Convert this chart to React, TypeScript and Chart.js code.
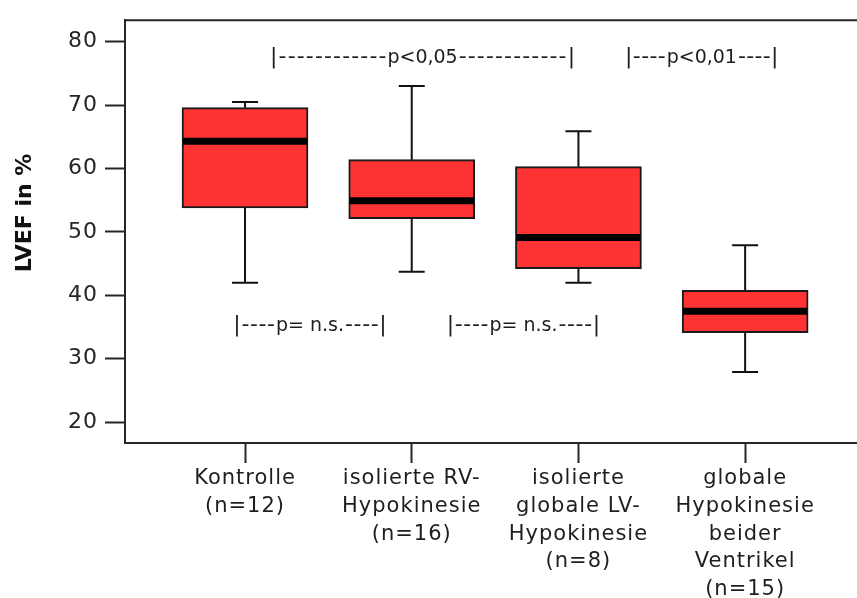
import React, { useEffect, useRef } from 'react';
import { Chart, registerables } from 'chart.js';

Chart.register(...registerables);

// ---- data ----
const categories: string[][] = [
  ['Kontrolle', '(n=12)'],
  ['isolierte RV-', 'Hypokinesie', '(n=16)'],
  ['isolierte', 'globale LV-', 'Hypokinesie', '(n=8)'],
  ['globale', 'Hypokinesie', 'beider', 'Ventrikel', '(n=15)'],
];
const whiskerLow = [42.0, 43.7, 42.0, 27.9];
const q1 = [53.8, 52.1, 44.2, 34.1];
const median = [64.3, 54.9, 49.1, 37.5];
const q3 = [69.6, 61.4, 60.3, 40.8];
const whiskerHigh = [70.5, 73.0, 65.9, 47.9];
const yTicks = [20, 30, 40, 50, 60, 70, 80];
const yTitle = 'LVEF in %';

const bracketLabels = [
  '|------------p<0,05------------|',
  '|----p<0,01----|',
  '|----p= n.s.----|',
  '|----p= n.s.----|',
];
const bracketFrom = [0.15, 2.28, -0.07, 1.21];
const bracketTo = [1.98, 3.2, 0.85, 2.13];
const bracketY = [77.7, 77.7, 35.5, 35.5];

const FONT = "'DejaVu Sans', 'Liberation Sans', sans-serif";
const DARK = '#262626';

function fitText(ctx: any, txt: string, x0: number, x1: number, y: number) {
  ctx.letterSpacing = '0px';
  const w = ctx.measureText(txt).width;
  const ls = txt.length > 1 ? (x1 - x0 - w) / (txt.length - 1) : 0;
  ctx.letterSpacing = `${ls}px`;
  ctx.fillText(txt, x0, y);
  ctx.letterSpacing = '0px';
}

const extrasPlugin = {
  id: 'boxExtras',
  beforeDraw(chart: any) {
    try { (chart.ctx as any).letterSpacing = '1px'; } catch (e) {}
  },
  afterDatasetsDraw(chart: any) {
    const { ctx, chartArea, scales } = chart;
    const x = scales.x;
    const y = scales.y;
    ctx.save();
    (ctx as any).letterSpacing = '0px';
    // top frame line
    ctx.strokeStyle = DARK;
    ctx.lineWidth = 2;
    ctx.beginPath();
    ctx.moveTo(chartArea.left - 1, chartArea.top);
    ctx.lineTo(chartArea.right + 2, chartArea.top);
    ctx.stroke();

    const half = 63;
    const cap = 13;
    for (let i = 0; i < categories.length; i++) {
      const cx = x.getPixelForValue(i);
      const yLo = y.getPixelForValue(whiskerLow[i]);
      const yQ1 = y.getPixelForValue(q1[i]);
      const yQ3 = y.getPixelForValue(q3[i]);
      const yHi = y.getPixelForValue(whiskerHigh[i]);
      const yMed = y.getPixelForValue(median[i]);
      ctx.strokeStyle = '#111';
      ctx.lineWidth = 2;
      ctx.beginPath();
      ctx.moveTo(cx, yQ3);
      ctx.lineTo(cx, yHi);
      ctx.moveTo(cx - cap, yHi);
      ctx.lineTo(cx + cap, yHi);
      ctx.moveTo(cx, yQ1);
      ctx.lineTo(cx, yLo);
      ctx.moveTo(cx - cap, yLo);
      ctx.lineTo(cx + cap, yLo);
      ctx.stroke();
      // median
      ctx.strokeStyle = '#000';
      ctx.lineWidth = 7;
      ctx.beginPath();
      ctx.moveTo(cx - half + 1, yMed);
      ctx.lineTo(cx + half - 1, yMed);
      ctx.stroke();
    }

    // significance brackets
    ctx.fillStyle = '#1e1e1e';
    ctx.textBaseline = 'alphabetic';
    ctx.textAlign = 'left';
    for (let i = 0; i < bracketLabels.length; i++) {
      const x0 = x.getPixelForValue(bracketFrom[i]);
      const x1 = x.getPixelForValue(bracketTo[i]);
      const yy = y.getPixelForValue(bracketY[i]) + 7;
      const m = bracketLabels[i].match(/^(\|-+)(.*?)(-+\|)$/);
      if (!m) continue;
      const [, leftPart, midPart, rightPart] = m;
      ctx.font = `19px ${FONT}`;
      (ctx as any).letterSpacing = '0px';
      const mw = ctx.measureText(midPart).width;
      const cxm = (x0 + x1) / 2;
      const ms = cxm - mw / 2;
      const me = cxm + mw / 2;
      ctx.fillText(midPart, ms, yy);
      ctx.font = `22px ${FONT}`;
      fitText(ctx, leftPart, x0, ms - 1, yy);
      fitText(ctx, rightPart, me + 1, x1, yy);
    }

    // y axis title
    (ctx as any).letterSpacing = '0px';
    ctx.fillStyle = '#111';
    ctx.font = `bold 22px ${FONT}`;
    ctx.textAlign = 'center';
    ctx.textBaseline = 'middle';
    ctx.translate(25, y.getPixelForValue(53.0));
    ctx.rotate(-Math.PI / 2);
    ctx.fillText(yTitle, 0, 0);
    ctx.restore();
  },
};

export default function App() {
  const ref = useRef<HTMLCanvasElement | null>(null);
  useEffect(() => {
    document.body.style.margin = '0';
    const canvas = ref.current!;
    const chart = new Chart(canvas, {
      type: 'bar',
      data: {
        datasets: [
          {
            data: categories.map((_, i) => ({ x: i, y: [q1[i], q3[i]] })) as any,
            backgroundColor: '#ff3333',
            borderColor: '#1a1a1a',
            borderWidth: 2,
            borderSkipped: false,
            barThickness: 126,
          },
        ],
      },
      options: {
        animation: false,
        responsive: false,
        maintainAspectRatio: false,
        devicePixelRatio: 1,
        layout: { padding: { top: 13, left: 0, right: 0, bottom: 0 } },
        plugins: { legend: { display: false }, tooltip: { enabled: false }, title: { display: false } },
        scales: {
          x: {
            type: 'linear',
            min: -0.72,
            max: 3.713,
            offset: false,
            grid: {
              display: true,
              offset: false,
              drawOnChartArea: false,
              drawTicks: true,
              tickLength: 20,
              tickColor: DARK,
              tickWidth: 2,
              color: DARK,
            },
            border: { display: true, color: DARK, width: 2 },
            afterBuildTicks: (scale: any) => {
              scale.ticks = categories.map((_, i) => ({ value: i }));
            },
            afterFit: (scale: any) => {
              scale.height = 155;
            },
            ticks: {
              autoSkip: false,
              maxRotation: 0,
              minRotation: 0,
              padding: 2,
              color: '#1e1e1e',
              font: { family: FONT, size: 21, lineHeight: 1.32 },
              callback: (v: any) => categories[v as number] ?? '',
            },
          },
          y: {
            type: 'linear',
            min: 16.7,
            max: 83.4,
            grid: {
              display: true,
              drawOnChartArea: false,
              drawTicks: true,
              tickLength: 20,
              tickColor: DARK,
              tickWidth: 2,
              color: DARK,
            },
            border: { display: true, color: DARK, width: 2 },
            afterBuildTicks: (scale: any) => {
              scale.ticks = yTicks.map((v) => ({ value: v }));
            },
            afterFit: (scale: any) => {
              scale.width = 125;
            },
            ticks: {
              padding: 7,
              color: '#262626',
              font: { family: FONT, size: 22 },
            },
          },
        },
      },
      plugins: [extrasPlugin],
    });
    return () => chart.destroy();
  }, []);

  return (
    <div style={{ position: 'fixed', left: 0, top: 0, width: 857, height: 598, overflow: 'hidden', background: '#fff' }}>
      <canvas ref={ref} width={864} height={598} style={{ width: 864, height: 598, display: 'block' }} />
    </div>
  );
}
